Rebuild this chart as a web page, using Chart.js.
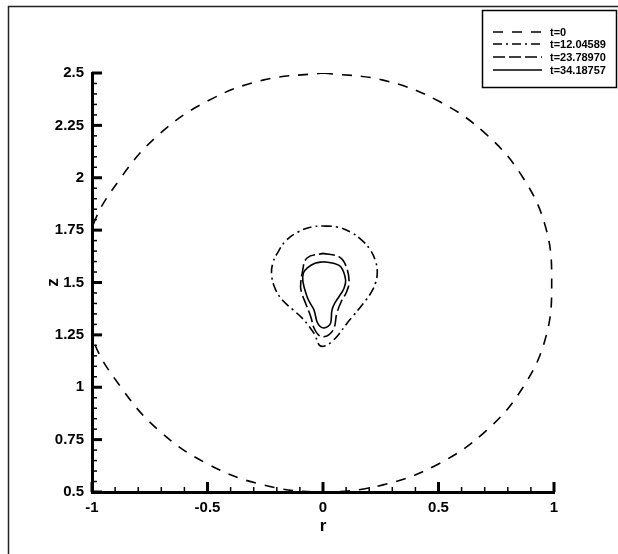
<!DOCTYPE html>
<html>
<head>
<meta charset="utf-8">
<script src="https://cdn.jsdelivr.net/npm/chart.js@4.4.1/dist/chart.umd.min.js"></script>
<style>
  html, body { margin: 0; padding: 0; background: #fff; }
  canvas { display: block; }
</style>
</head>
<body>
<canvas id="contours" width="618" height="554"></canvas>
<script>
const times = ['t=0', 't=12.04589', 't=23.78970', 't=34.18757'];

// interface contours, (r, z)
const r0 = [0, 0.26, 0.5, 0.707, 0.866, 0.965, 0.99, 0.965, 0.866, 0.707, 0.5, 0.26, 0, -0.26, -0.5, -0.71, -0.875, -1.0, -1.03, -1.0, -0.875, -0.71, -0.5, -0.26, 0];
const z0 = [2.5, 2.466, 2.366, 2.207, 2.0, 1.759, 1.5, 1.241, 1.0, 0.793, 0.634, 0.534, 0.5, 0.534, 0.634, 0.793, 1.0, 1.241, 1.5, 1.759, 2.0, 2.207, 2.366, 2.466, 2.5];

const r1 = [0, 0.06, 0.12, 0.17, 0.205, 0.228, 0.235, 0.228, 0.21, 0.185, 0.16, 0.13, 0.1, 0.07, 0.04, 0.01, -0.015, -0.035, -0.06, -0.09, -0.13, -0.175, -0.205, -0.222, -0.218, -0.195, -0.16, -0.11, -0.05, 0];
const z1 = [1.77, 1.765, 1.74, 1.70, 1.655, 1.6, 1.55, 1.5, 1.455, 1.415, 1.38, 1.34, 1.3, 1.255, 1.22, 1.198, 1.2, 1.25, 1.29, 1.33, 1.37, 1.415, 1.465, 1.53, 1.59, 1.645, 1.70, 1.74, 1.765, 1.77];

const r2 = [0, 0.069, 0.098, 0.113, 0.1, 0.082, 0.06, 0.048, 0.025, 0, -0.02, -0.039, -0.053, -0.075, -0.092, -0.097, -0.09, -0.069, 0];
const z2 = [1.639, 1.623, 1.583, 1.504, 1.45, 1.416, 1.354, 1.283, 1.25, 1.241, 1.25, 1.283, 1.337, 1.40, 1.45, 1.48, 1.545, 1.617, 1.639];

const r3 = [0.004, 0.045, 0.077, 0.098, 0.09, 0.069, 0.05, 0.039, 0.033, 0.02, 0.004, -0.012, -0.026, -0.039, -0.055, -0.069, -0.087, -0.085, -0.069, -0.035, 0.004];
const z3 = [1.599, 1.592, 1.575, 1.512, 1.47, 1.432, 1.40, 1.369, 1.306, 1.289, 1.283, 1.29, 1.313, 1.369, 1.40, 1.432, 1.504, 1.545, 1.569, 1.592, 1.599];

const xTicks = [-1, -0.5, 0, 0.5, 1];
const yTicks = [0.5, 0.75, 1, 1.25, 1.5, 1.75, 2, 2.25, 2.5];

const pts = (rs, zs) => rs.map((r, i) => ({ x: r, y: zs[i] }));

const dashes = [[10, 9], [9, 4, 2, 4], [12, 4], []];
const curves = [pts(r0, z0), pts(r1, z1), pts(r2, z2), pts(r3, z3)];

const font = 'Liberation Sans, Arial, sans-serif';

// inward tick marks, frame and legend box
const decor = {
  id: 'decor',
  afterDraw(chart) {
    const c = chart.ctx;
    const xs = chart.scales.x, ys = chart.scales.y;
    const a = chart.chartArea;
    c.save();
    c.strokeStyle = '#000';
    for (let i = -10; i <= 10; i++) {
      const px = xs.getPixelForValue(i / 10);
      const major = i % 5 === 0;
      c.lineWidth = major ? 3 : 1.5;
      c.beginPath();
      c.moveTo(px, a.bottom);
      c.lineTo(px, a.bottom - (major ? 10 : 5));
      c.stroke();
    }
    for (let i = 10; i <= 50; i++) {
      const py = ys.getPixelForValue(i / 20);
      const major = i % 5 === 0;
      c.lineWidth = major ? 3 : 1.5;
      c.beginPath();
      c.moveTo(a.left, py);
      c.lineTo(a.left + (major ? 10 : 5), py);
      c.stroke();
    }

    // outer frame
    c.lineWidth = 1.5;
    c.strokeStyle = '#222';
    c.beginPath();
    c.moveTo(8.5, 554);
    c.lineTo(8.5, 6.5);
    c.lineTo(618, 6.5);
    c.stroke();

    // legend
    c.lineWidth = 1.5;
    c.strokeStyle = '#000';
    c.strokeRect(482.5, 10.5, 134, 77);
    const rows = [32, 44, 57, 70];
    c.font = 'bold 11px ' + font;
    c.fillStyle = '#000';
    c.textBaseline = 'middle';
    chart.data.datasets.forEach((ds, i) => {
      c.setLineDash(ds.borderDash);
      c.lineWidth = 1.5;
      c.beginPath();
      c.moveTo(493, rows[i]);
      c.lineTo(542, rows[i]);
      c.stroke();
      c.setLineDash([]);
      c.fillText(ds.label, 550, rows[i] + 0.5);
    });
    c.restore();
  }
};

const ctx = document.getElementById('contours').getContext('2d');
const chart = new Chart(ctx, {
  type: 'scatter',
  data: {
    datasets: times.map((t, i) => ({
      label: t,
      data: curves[i],
      showLine: true,
      borderColor: '#000',
      borderWidth: 1.6,
      borderDash: dashes[i],
      pointRadius: 0,
      tension: 0.4,
      fill: false
    }))
  },
  options: {
    responsive: false,
    animation: false,
    layout: { padding: { left: 0, top: 73, right: 64, bottom: 0 } },
    elements: { line: { capBezierPoints: false } },
    plugins: {
      legend: { display: false },
      tooltip: { enabled: false }
    },
    scales: {
      x: {
        type: 'linear',
        min: -1,
        max: 1,
        afterBuildTicks: s => { s.ticks = xTicks.map(v => ({ value: v })); },
        afterFit: s => { s.height = 62; },
        grid: { display: false, drawTicks: false },
        border: { display: true, width: 3, color: '#000' },
        ticks: {
          color: '#000',
          padding: 7,
          maxRotation: 0,
          font: { family: font, size: 15, weight: 'bold' },
          callback: v => String(v)
        },
        title: {
          display: true,
          text: 'r',
          color: '#000',
          padding: { top: 0, bottom: 17 },
          font: { family: font, size: 17, weight: 'bold' }
        }
      },
      y: {
        type: 'linear',
        min: 0.5,
        max: 2.5,
        afterBuildTicks: s => { s.ticks = yTicks.map(v => ({ value: v })); },
        afterFit: s => { s.width = 92; },
        grid: { display: false, drawTicks: false },
        border: { display: true, width: 3, color: '#000' },
        ticks: {
          color: '#000',
          padding: 8,
          font: { family: font, size: 15, weight: 'bold' },
          callback: v => String(v)
        },
        title: {
          display: true,
          text: 'z',
          color: '#000',
          padding: { top: 43, bottom: 0 },
          font: { family: font, size: 17, weight: 'bold' }
        }
      }
    }
  },
  plugins: [decor]
});
</script>
</body>
</html>
